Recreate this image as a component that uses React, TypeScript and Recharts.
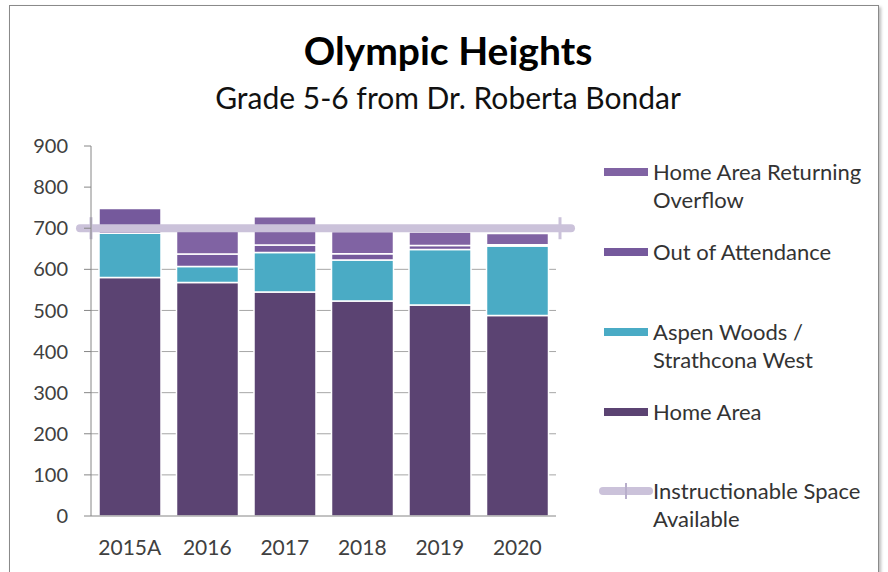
import React from "react";
import {
  ComposedChart,
  Bar,
  XAxis,
  YAxis,
  CartesianGrid,
  ReferenceLine,
} from "recharts";

const categories = ["2015A", "2016", "2017", "2018", "2019", "2020"];
const homeArea = [580, 568, 545, 523, 513, 488];
const aspenWoods = [108, 39, 96, 100, 135, 169];
const outOfAttendance = [60, 30, 18, 15, 10, 3];
const returningOverflow = [0, 56, 69, 54, 33, 27];
const instructionalSpace = 700;
const yTicks = [0, 100, 200, 300, 400, 500, 600, 700, 800, 900];
const gridLevels = [100, 200, 300, 400, 500, 600];

const FONT = "Lato, 'Noto Sans', sans-serif";
const LINE_COLOR = "#CBC2DA";

const series = [
  { key: "overflow", name: ["Home Area Returning", "Overflow"], color: "#8063A3" },
  { key: "out", name: ["Out of Attendance"], color: "#75599C" },
  { key: "aspen", name: ["Aspen Woods /", "Strathcona West"], color: "#4AABC5" },
  { key: "home", name: ["Home Area"], color: "#5B4372" },
];
const legendTops = [158, 238, 318, 398];

const data = categories.map((c, i) => ({
  name: c,
  home: homeArea[i],
  aspen: aspenWoods[i],
  out: outOfAttendance[i],
  overflow: returningOverflow[i],
}));

const SpaceLine = (p: any) => {
  const { x1, x2, y1 } = p;
  return (
    <g>
      <line x1={x1 - 11} x2={x2 + 15} y1={y1} y2={y1} stroke={LINE_COLOR} strokeWidth={8} strokeLinecap="round" />
      <line x1={x1} x2={x1} y1={y1 - 11} y2={y1 + 11} stroke={LINE_COLOR} strokeWidth={3} />
      <line x1={x2 + 4} x2={x2 + 4} y1={y1 - 11} y2={y1 + 11} stroke={LINE_COLOR} strokeWidth={3} />
    </g>
  );
};

export default function App() {
  const stack = [...series].reverse();
  return (
    <div style={{ position: "absolute", left: 0, top: 0, width: 888, height: 572, background: "#fff", fontFamily: FONT, overflow: "hidden" }}>
      <div style={{ position: "absolute", left: 9, top: 5, width: 868, height: 600, border: "1.5px solid #8a8a8a", boxShadow: "2px 2px 3px #bbb" }} />
      <div style={{ position: "absolute", left: 0, width: 896, top: 29, lineHeight: "42px", textAlign: "center", fontSize: 39, fontWeight: 700, color: "#000" }}>
        Olympic Heights
      </div>
      <div style={{ position: "absolute", left: 0, width: 896, top: 79, lineHeight: "36px", textAlign: "center", fontSize: 30, color: "#111" }}>
        Grade 5-6 from Dr. Roberta Bondar
      </div>
      <div style={{ position: "absolute", left: 0, top: 0 }}>
        <ComposedChart width={888} height={572} data={data} margin={{ top: 146, right: 332, left: 31, bottom: 26 }}>
          <CartesianGrid vertical={false} horizontalValues={gridLevels} stroke="#a6a6a6" />
          <XAxis
            dataKey="name"
            height={30}
            tickLine={false}
            tickSize={6}
            tickMargin={18}
            axisLine={{ stroke: "#868686" }}
            tick={{ fontSize: 21, fill: "#404040", fontFamily: FONT }}
          />
          <YAxis
            width={60}
            domain={[0, 900]}
            ticks={yTicks}
            tickSize={7}
            tickMargin={16}
            axisLine={{ stroke: "#868686" }}
            tickLine={{ stroke: "#868686" }}
            tick={{ fontSize: 20, fill: "#404040", fontFamily: FONT }}
          />
          {stack.map((s) => (
            <Bar
              key={s.key}
              dataKey={s.key}
              stackId="a"
              fill={s.color}
              stroke="#ffffff"
              strokeWidth={1.5}
              barSize={62}
              isAnimationActive={false}
            />
          ))}
          <ReferenceLine y={instructionalSpace} shape={SpaceLine} />
        </ComposedChart>
      </div>
      {series.map((s, i) => (
        <div key={s.key} style={{ position: "absolute", left: 604, top: legendTops[i] }}>
          <div style={{ position: "absolute", left: 0, top: 10, width: 44, height: 8, background: s.color }} />
          <div style={{ position: "absolute", left: 49, top: 0, fontSize: 22, lineHeight: "28px", color: "#333", whiteSpace: "nowrap" }}>
            {s.name.map((n) => (
              <div key={n}>{n}</div>
            ))}
          </div>
        </div>
      ))}
      <div style={{ position: "absolute", left: 599, top: 477 }}>
        <div style={{ position: "absolute", left: 0, top: 10, width: 54, height: 8, borderRadius: 4, background: LINE_COLOR }} />
        <div style={{ position: "absolute", left: 26, top: 6, width: 2, height: 16, background: "#b8aecb" }} />
        <div style={{ position: "absolute", left: 54, top: 0, fontSize: 22, lineHeight: "28px", color: "#333", whiteSpace: "nowrap" }}>
          <div>Instructionable Space</div>
          <div>Available</div>
        </div>
      </div>
    </div>
  );
}
